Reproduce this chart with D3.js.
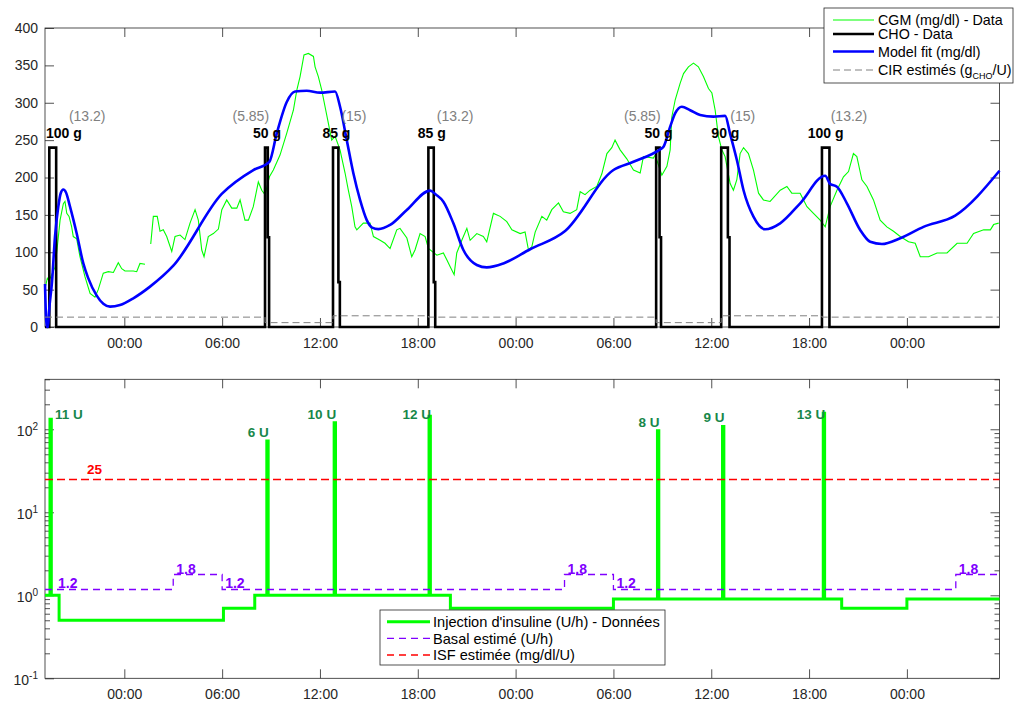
<!DOCTYPE html>
<html><head><meta charset="utf-8">
<script src="https://cdn.jsdelivr.net/npm/d3@7"></script>
<style>body{margin:0;background:#fff} svg{font-family:"Liberation Sans",Arial,Helvetica,sans-serif}</style>
</head><body><svg id="c" width="1016" height="704"></svg>
<script>
// ---------- DATA (time in hours from the first midnight) ----------
const tStart = -4.865, tEnd = 53.68;
const xTickFormat = "%H:%M";
const yTicksTop = [0,50,100,150,200,250,300,350,400];
const yTicksLogMajor = [0.1,1,10,100];
const yTicksLogMinor = [0.2,0.3,0.4,0.5,0.6,0.7,0.8,0.9,2,3,4,5,6,7,8,9,20,30,40,50,60,70,80,90,200,300,400];

const cgmT = [-4.86,-4.72,-4.62,-4.25,-4.13,-3.94,-3.74,-3.64,-3.53,-3.39,-3.23,-3.13,-2.92,-2.72,-2.41,-2.10,-1.80,-1.60,-1.29,-0.98,-0.67,-0.37,-0.16,0.04,0.55,0.76,0.96,1.27,1.45,1.62,1.78,2.02,2.19,2.39,2.60,2.91,3.11,3.42,3.72,4.03,4.34,4.54,4.75,4.89,5.15,5.46,5.77,5.98,6.28,6.59,6.90,7.10,7.40,7.61,7.91,8.22,8.43,8.63,8.90,9.14,9.55,9.96,10.37,10.58,10.78,11.02,11.29,11.60,11.70,11.90,12.11,12.31,12.52,12.72,12.93,13.23,13.54,13.74,13.95,14.15,14.26,14.66,15.07,15.28,15.69,15.99,16.30,16.71,16.91,17.33,17.63,17.83,18.14,18.45,18.65,19.17,19.57,19.78,19.98,20.23,20.39,20.70,21.01,21.21,21.62,22.02,22.23,22.64,23.05,23.46,23.77,24.28,24.58,24.79,24.99,25.20,25.61,25.91,26.22,26.63,26.93,27.34,27.75,27.96,28.26,28.57,28.98,29.29,29.60,29.90,30.10,30.41,30.82,31.23,31.64,31.84,32.45,32.56,32.97,33.28,33.48,33.58,33.79,34.09,34.30,34.60,34.91,35.21,35.52,35.83,36.04,36.24,36.44,36.65,36.85,37.16,37.36,37.57,37.77,37.98,38.28,38.59,38.90,39.20,39.61,40.23,40.64,40.94,41.45,41.87,42.27,42.68,42.99,43.29,43.71,44.11,44.42,44.72,44.93,45.24,45.55,45.95,46.36,46.77,47.18,47.59,48.10,48.51,48.82,49.33,49.85,50.46,51.08,51.69,52.09,52.71,53.12,53.32,53.63];
const cgmV = [52,65,62,80,103,143,165,168,152,148,134,121,118,94,67,45,40,50,72,74,73,86,78,75,75,74,85,84,null,111,148,148,128,130,121,101,121,123,117,139,157,143,103,94,121,125,131,157,170,159,159,170,143,143,161,194,183,177,201,210,230,259,290,317,335,364,366,362,348,335,317,295,272,250,255,237,206,183,161,134,130,139,139,121,116,112,105,130,132,119,94,103,125,121,105,96,99,90,81,70,99,116,132,116,125,121,114,152,148,141,130,125,127,103,107,127,148,143,157,166,154,152,157,181,177,183,188,205,232,240,250,237,225,210,206,228,226,230,203,215,237,281,304,326,339,348,353,348,335,319,313,290,255,237,228,192,183,197,232,240,232,210,179,170,168,183,188,179,179,161,152,143,134,161,183,201,208,232,228,197,188,170,143,134,128,121,114,112,94,94,99,99,112,112,125,130,130,137,139];

const fitT = [-4.865,-4.761,-4.68,-4.62,-4.436,-4.252,-4.049,-3.902,-3.742,-3.577,-3.331,-2.920,-2.515,-2.227,-1.693,-1.288,-0.877,-0.264,0.552,1.577,3.006,5.975,7.914,8.896,9.350,9.963,10.472,11.190,12.006,12.926,13.233,13.644,14.049,14.460,14.871,15.196,15.583,16.301,17.325,18.755,19.123,19.571,20.184,20.798,21.620,22.233,23.252,24.890,27.037,30.000,31.227,32.865,33.07,33.48,33.79,34.196,34.706,35.319,36.135,36.853,37.160,37.571,37.975,38.589,39.307,40.227,41.454,42.988,43.294,43.706,44.319,45.135,45.748,46.466,47.589,49.018,50.963,53.68];
const fitV = [57.5,0,0,20,60,121,161,179,184,180,161,125,85,66,42,31,27.2,29.4,38.4,54,82,178,210,221,259,301,315,316,313.5,315,294.7,250,205.6,170,143,133,131,136.5,156.5,182.4,177,167.7,138.7,103,83,79.8,85,104,128.4,210,221,237.7,241,268,286,294.7,290,283.6,281.4,282.5,258,223.4,183.3,147.6,130.7,138.7,165.5,202.4,191.3,187.7,165.5,129.8,114,111,118.7,134,149,209];

const choT = [-4.865,-4.60,-4.18,8.63,8.80,8.88,12.80,13.13,13.22,18.65,18.98,19.07,32.62,32.83,32.92,36.61,37.02,37.12,42.79,43.25,53.68];
const choV = [0,240,0,240,120,0,240,60,0,240,60,0,240,120,0,240,120,0,240,0,0];

const mealStart = [-4.60,8.63,12.80,18.65,32.62,36.61,42.79];
const mealStop  = [-4.18,8.88,13.22,19.07,32.92,37.12,43.25];
const mealLabel = ["100 g","50 g","85 g","85 g","50 g","90 g","100 g"];
const cirLabel  = ["(13.2)","(5.85)","(15)","(13.2)","(5.85)","(15)","(13.2)"];
const cirSide   = ["start","end","start","start","end","start","start"];

const cirT = [-4.865,8.63,12.80,18.65,32.62,36.61,42.79,53.68];
const cirV = [13.2,5.85,15,13.2,5.85,15,13.2,13.2];

const basalT = [-4.865,-4.0,6.08,8.0,20.0,30.0,44.0,48.0,53.68];
const basalV = [1.0,0.5,0.7,1.0,0.7,0.9,0.7,0.9,0.9];
const bolusT = [-4.56,8.74,12.87,18.69,32.70,36.69,42.87];
const bolusRate = [132,72,120,144,96,108,156];
const bolusLabel = ["11 U","6 U","10 U","12 U","8 U","9 U","13 U"];
const bolusDur = 5/60;

const estBasalT = [-4.865,3.0,6.0,27.0,30.0,51.0,53.68];
const estBasalV = [1.2,1.8,1.2,1.8,1.2,1.8,1.8];
const isfT = [-4.865,53.68];
const isfV = [25,25];
const isfLabelT = -2.29;

// ---------- LAYOUT ----------
const svg = d3.select("#c");
const X0 = 45, X1 = 999.5;
const T0 = 28, B0 = 327, T1 = 379.3, B1 = 678.3;
const AX = "#262626";
const base = new Date(2021,0,1,0,0,0);
const toD = h => new Date(base.getTime() + h*3600000);

const x = d3.scaleTime().domain([toD(tStart), toD(tEnd)]).range([X0, X1]);
const y1 = d3.scaleLinear().domain([0,400]).range([B0, T0]);
const y2 = d3.scaleLog().domain([0.1,400]).range([B1, T1]);

const defs = svg.append("defs");
defs.append("clipPath").attr("id","clip1").append("rect").attr("x",X0-2).attr("y",T0-2).attr("width",X1-X0+4).attr("height",B0-T0+4);
defs.append("clipPath").attr("id","clip2").append("rect").attr("x",X0-2).attr("y",T1).attr("width",X1-X0+4).attr("height",B1-T1+2);

function styleAxis(g, w){
  g.select(".domain").remove();
  g.selectAll(".tick line").attr("stroke",AX).attr("stroke-width",w||0.8);
  g.selectAll(".tick text").attr("fill",AX).attr("font-size",14).attr("font-family","Liberation Sans, Arial, sans-serif");
}
const xTicks = d3.timeHour.every(6);

function drawFrame(T, B, yScale, isLog){
  const gb = svg.append("g").attr("transform",`translate(0,${B})`)
    .call(d3.axisBottom(x).ticks(xTicks).tickFormat(d3.timeFormat(xTickFormat)).tickSizeInner(-9).tickSizeOuter(0).tickPadding(11));
  styleAxis(gb);
  const gt = svg.append("g").attr("transform",`translate(0,${T})`)
    .call(d3.axisTop(x).ticks(xTicks).tickFormat("").tickSizeInner(-9).tickSizeOuter(0));
  styleAxis(gt);
  if(!isLog){
    const gl = svg.append("g").attr("transform",`translate(${X0},0)`)
      .call(d3.axisLeft(yScale).tickValues(yTicksTop).tickSizeInner(-9).tickSizeOuter(0).tickPadding(7));
    styleAxis(gl);
    const gr = svg.append("g").attr("transform",`translate(${X1},0)`)
      .call(d3.axisRight(yScale).tickValues(yTicksTop).tickFormat("").tickSizeInner(-9).tickSizeOuter(0));
    styleAxis(gr);
  } else {
    const gl = svg.append("g").attr("transform",`translate(${X0},0)`)
      .call(d3.axisLeft(yScale).tickValues(yTicksLogMajor).tickFormat("").tickSizeInner(-9).tickSizeOuter(0).tickPadding(7));
    styleAxis(gl);
    gl.selectAll(".tick text").each(function(d){
      const e = Math.round(Math.log10(d));
      const t = d3.select(this).attr("dy","0.45em");
      t.append("tspan").text("10");
      t.append("tspan").attr("dy","-0.6em").attr("font-size",10).text(e);
    });
    const glm = svg.append("g").attr("transform",`translate(${X0},0)`)
      .call(d3.axisLeft(yScale).tickValues(yTicksLogMinor).tickFormat("").tickSizeInner(-5).tickSizeOuter(0));
    styleAxis(glm);
    const gr = svg.append("g").attr("transform",`translate(${X1},0)`)
      .call(d3.axisRight(yScale).tickValues(yTicksLogMajor).tickFormat("").tickSizeInner(-9).tickSizeOuter(0));
    styleAxis(gr);
    const grm = svg.append("g").attr("transform",`translate(${X1},0)`)
      .call(d3.axisRight(yScale).tickValues(yTicksLogMinor).tickFormat("").tickSizeInner(-5).tickSizeOuter(0));
    styleAxis(grm);
  }
  svg.append("rect").attr("x",X0).attr("y",T).attr("width",X1-X0).attr("height",B-T)
    .attr("fill","none").attr("stroke",AX).attr("stroke-width",0.8);
}

// ---------- TOP PANEL ----------
drawFrame(T0, B0, y1, false);
const p1 = svg.append("g").attr("clip-path","url(#clip1)");

const cgm = cgmT.map((t,i)=>[t,cgmV[i]]);
p1.append("path").datum(cgm)
  .attr("d", d3.line().defined(d=>d[1]!=null).x(d=>x(toD(d[0]))).y(d=>y1(d[1])))
  .attr("fill","none").attr("stroke","#00ff00").attr("stroke-width",1.1);

const cho = choT.map((t,i)=>[t,choV[i]]);
p1.append("path").datum(cho)
  .attr("d", d3.line().curve(d3.curveStepAfter).x(d=>x(toD(d[0]))).y(d=>y1(d[1])))
  .attr("fill","none").attr("stroke","#000").attr("stroke-width",2.6);

const fit = fitT.map((t,i)=>[t,fitV[i]]);
p1.append("path").datum(fit)
  .attr("d", d3.line().curve(d3.curveMonotoneX).x(d=>x(toD(d[0]))).y(d=>y1(d[1])))
  .attr("fill","none").attr("stroke","#0000ff").attr("stroke-width",2.6).attr("stroke-linejoin","round");

const cir = cirT.map((t,i)=>[t,cirV[i]]);
p1.append("path").datum(cir)
  .attr("d", d3.line().curve(d3.curveStepAfter).x(d=>x(toD(d[0]))).y(d=>y1(d[1])))
  .attr("fill","none").attr("stroke","#808080").attr("stroke-width",1).attr("stroke-dasharray","7,4");

// meal labels
mealStart.forEach((s,i)=>{
  const c = (x(toD(s)) + x(toD(mealStop[i])))/2;
  const t = svg.append("text").attr("y",y1(240)-10).attr("text-anchor","middle")
    .attr("font-size",14).attr("font-weight","bold").attr("fill","#000").text(mealLabel[i]);
  const w = t.node().getComputedTextLength();
  const cx = Math.max(c, X0 + 1 + w/2);
  t.attr("x", cx);
  svg.append("text").attr("x", cirSide[i]==="start" ? cx+5 : cx+2).attr("y", y1(240)-27)
    .attr("text-anchor", cirSide[i]).attr("font-size",14).attr("fill","#808080").text(cirLabel[i]);
});

// top legend
{
  const lg = svg.append("g");
  lg.append("rect").attr("x",824).attr("y",8).attr("width",189).attr("height",75)
    .attr("fill","#fff").attr("stroke",AX).attr("stroke-width",0.8);
  const rows = [
    {y:20, stroke:"#00ff00", w:1.1, dash:null, text:"CGM (mg/dl) - Data"},
    {y:34, stroke:"#000", w:2.6, dash:null, text:"CHO - Data"},
    {y:51.5, stroke:"#0000ff", w:2.6, dash:null, text:"Model fit (mg/dl)"},
    {y:70, stroke:"#808080", w:1, dash:"7,4", text:null}
  ];
  rows.forEach(r=>{
    lg.append("line").attr("x1",833).attr("x2",874).attr("y1",r.y).attr("y2",r.y)
      .attr("stroke",r.stroke).attr("stroke-width",r.w).attr("stroke-dasharray",r.dash);
    const t = lg.append("text").attr("x",878).attr("y",r.y+5.1).attr("font-size",14.3).attr("fill","#000");
    if(r.text) t.text(r.text);
    else {
      t.append("tspan").text("CIR estimés (g");
      t.append("tspan").attr("font-size",9).attr("dy",4).text("CHO");
      t.append("tspan").attr("dy",-4).text("/U)");
    }
  });
}

// ---------- BOTTOM PANEL ----------
drawFrame(T1, B1, y2, true);
const p2 = svg.append("g").attr("clip-path","url(#clip2)");

function basalAt(t){ let v = basalV[0]; basalT.forEach((bt,i)=>{ if(bt<=t) v = basalV[i]; }); return v; }
const evT = Array.from(new Set(basalT.concat(bolusT, bolusT.map(b=>b+bolusDur)))).sort((a,b)=>a-b);
const inj = evT.map(t=>{
  const j = bolusT.findIndex(b=> t>=b-1e-9 && t<b+bolusDur-1e-9);
  return [t, j>=0 ? bolusRate[j] : basalAt(t)];
});
p2.append("path").datum(inj)
  .attr("d", d3.line().curve(d3.curveStepAfter).x(d=>x(toD(d[0]))).y(d=>y2(d[1])))
  .attr("fill","none").attr("stroke","#00ff00").attr("stroke-width",3);

const est = estBasalT.map((t,i)=>[t,estBasalV[i]]);
p2.append("path").datum(est)
  .attr("d", d3.line().curve(d3.curveStepAfter).x(d=>x(toD(d[0]))).y(d=>Math.round(y2(d[1]))+0.5))
  .attr("fill","none").attr("stroke","#8000ff").attr("stroke-width",1.3).attr("stroke-dasharray","7,5");

const isf = isfT.map((t,i)=>[t,isfV[i]]);
p2.append("path").datum(isf)
  .attr("d", d3.line().x(d=>x(toD(d[0]))).y(d=>Math.round(y2(d[1]))+0.5))
  .attr("fill","none").attr("stroke","#ff0000").attr("stroke-width",1.3).attr("stroke-dasharray","8,4");

// bolus labels
bolusT.forEach((b,i)=>{
  const bx = x(toD(b));
  const cy = Math.max(y2(bolusRate[i]*1.27), y2(150));
  const first = i===0;
  svg.append("text").attr("x", first ? bx+5 : bx+2).attr("y", cy+4.5)
    .attr("text-anchor", first ? "start" : "end")
    .attr("font-size",13.5).attr("font-weight","bold").attr("fill","#17874a").text(bolusLabel[i]);
});
// estimated basal labels
estBasalT.slice(0,-1).forEach((t,i)=>{
  const lx = Math.max(x(toD(t)), X0+10) + 3;
  svg.append("text").attr("x",lx).attr("y",y2(estBasalV[i])-0.5)
    .attr("font-size",14).attr("font-weight","bold").attr("fill","#8000ff").text(String(estBasalV[i]));
});
// ISF label
svg.append("text").attr("x",x(toD(isfLabelT))).attr("y",y2(isfV[0])-5)
  .attr("font-size",13.5).attr("font-weight","bold").attr("fill","#ff0000").text(String(isfV[0]));

// bottom legend
{
  const lg = svg.append("g");
  lg.append("rect").attr("x",380).attr("y",610).attr("width",285).attr("height",55)
    .attr("fill","#fff").attr("stroke",AX).attr("stroke-width",0.8);
  const rows = [
    {y:621.7, stroke:"#00ff00", w:3, dash:null, text:"Injection d'insuline (U/h) - Données"},
    {y:638.3, stroke:"#8000ff", w:1.3, dash:"7,5", text:"Basal estimé (U/h)"},
    {y:655, stroke:"#ff0000", w:1.3, dash:"7,5", text:"ISF estimée (mg/dl/U)"}
  ];
  rows.forEach(r=>{
    lg.append("line").attr("x1",387).attr("x2",430).attr("y1",r.y).attr("y2",r.y)
      .attr("stroke",r.stroke).attr("stroke-width",r.w).attr("stroke-dasharray",r.dash);
    lg.append("text").attr("x",433).attr("y",r.y+5.2).attr("font-size",14.6).attr("fill","#000").text(r.text);
  });
}
</script></body></html>
